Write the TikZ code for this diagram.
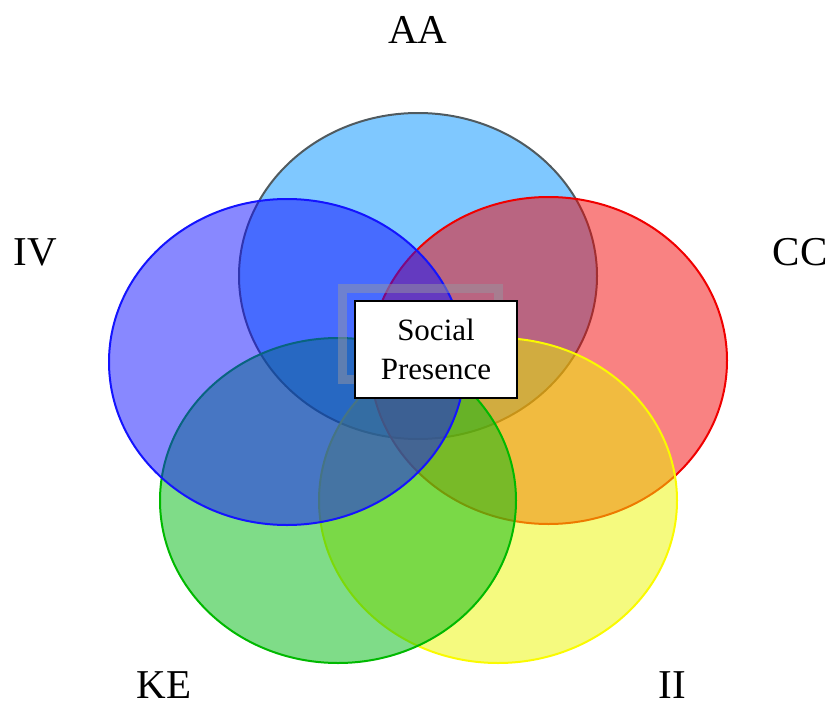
\documentclass[tikz,border=0pt]{standalone}
\usepackage{fontspec}
\setmainfont{Liberation Serif}
\definecolor{aafill}{RGB}{0,145,255}
\definecolor{aaline}{RGB}{80,90,95}
\definecolor{ivfill}{RGB}{17,17,255}
\definecolor{ivline}{RGB}{20,20,255}
\definecolor{ccfill}{RGB}{243,5,5}
\definecolor{ccline}{RGB}{240,0,0}
\definecolor{iifill}{RGB}{235,245,0}
\definecolor{iiline}{RGB}{250,250,0}
\definecolor{kefill}{RGB}{0,185,17}
\definecolor{keline}{RGB}{0,185,0}
\definecolor{shadowc}{RGB}{150,150,160}
\tikzset{
  venn/.style={line width=2pt, fill opacity=0.5},
  lbl/.style={anchor=base, inner sep=0pt, font=\fontsize{41}{49}\selectfont},
  spbox/.style={draw=black, line width=2.2pt, fill=white, minimum width=162pt, minimum height=97pt, inner sep=0pt, align=center, font=\fontsize{31}{39}\selectfont}
}
\begin{document}
\begin{tikzpicture}[x=1pt,y=-1pt]
\useasboundingbox (0,0) rectangle (830,704);
\draw[venn, draw=aaline, fill=aafill] (418,276) ellipse [x radius=179pt, y radius=163pt];
\draw[venn, draw=ccline, fill=ccfill] (548.5,360.5) ellipse [x radius=178.5pt, y radius=163.5pt];
\draw[venn, draw=iiline, fill=iifill] (498,500.5) ellipse [x radius=179pt, y radius=162.5pt];
\draw[venn, draw=keline, fill=kefill] (338,500.5) ellipse [x radius=178pt, y radius=162.5pt];
\draw[venn, draw=ivline, fill=ivfill] (287,362) ellipse [x radius=178pt, y radius=163pt];
\draw[shadowc, line width=9pt, opacity=0.5] (342,288) rectangle (498,379);
\node[spbox] (sp) at (436,349.5) {Social\\Presence};
\node[lbl] (aa) at (418,43) {AA};
\node[lbl] (iv) at (35.5,265) {IV};
\node[lbl] (cc) at (800,265) {CC};
\node[lbl] (ke) at (164,698) {KE};
\node[lbl] (ii) at (672,698) {II};
\end{tikzpicture}
\end{document}
